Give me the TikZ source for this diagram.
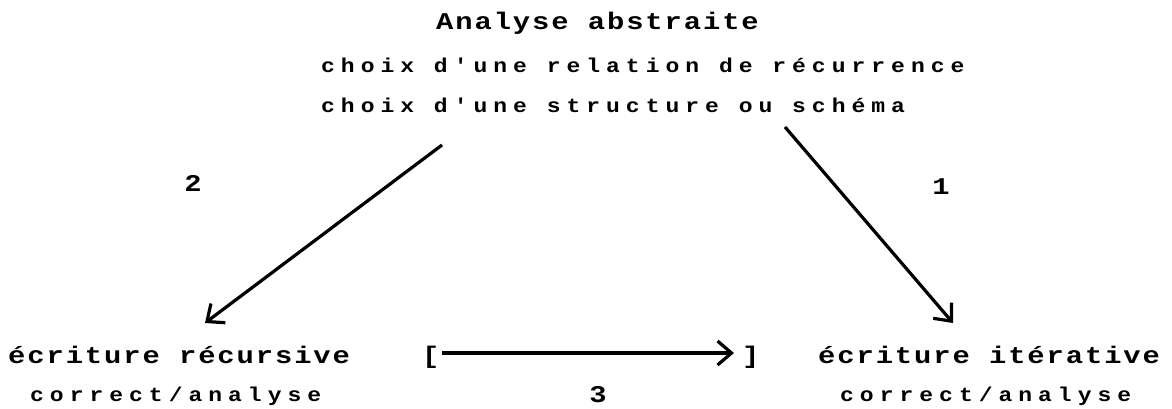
\documentclass[tikz,border=0pt]{standalone}
\usepackage{fontspec}
\usetikzlibrary{arrows.meta}
\newfontfamily\ttlfont[FakeStretch=1.2,LetterSpace=8]{Liberation Mono}
\newfontfamily\subfont[FakeStretch=1.15,LetterSpace=30]{Liberation Mono}
\tikzset{
  ttl/.style={anchor=base west, inner sep=0pt, font=\ttlfont\bfseries\fontsize{24}{24}\selectfont},
  sub/.style={anchor=base west, inner sep=0pt, font=\subfont\bfseries\fontsize{20}{20}\selectfont},
  num/.style={inner sep=0pt, font=\ttlfont\bfseries\fontsize{24}{24}\selectfont},
  arr/.style={line width=3.2pt, -{Straight Barb[length=14pt,width=24pt,line width=3.2pt]}}
}
\begin{document}
\begin{tikzpicture}[x=1pt,y=-1pt]
\useasboundingbox (0,0) rectangle (1172,408);
\node[ttl] (title) at (436,29) {Analyse abstraite};
\node[sub] (l2) at (321,72) {choix d'une relation de récurrence};
\node[sub] (l3) at (321,112) {choix d'une structure ou schéma};
\node[ttl] (rec) at (8,363) {écriture récursive};
\node[ttl] (ite) at (818,363) {écriture itérative};
\node[sub] (rca) at (30,401) {correct/analyse};
\node[sub] (ica) at (840,401) {correct/analyse};
\node[ttl] (lb) at (422,363) {[};
\node[ttl] (rb) at (742,363) {]};
\node[num] (n2) at (193,183) {2};
\node[num] (n1) at (941,187) {1};
\node[num] (n3) at (598,395) {3};
\coordinate (a2s) at (442,145);
\coordinate (a2e) at (205,323);
\coordinate (a1s) at (785,127);
\coordinate (a1e) at (953,323);
\coordinate (a3s) at (442,353);
\coordinate (a3e) at (734,353);
\draw[arr] (a2s) -- (a2e);
\draw[arr] (a1s) -- (a1e);
\draw[arr] (a3s) -- (a3e);
\end{tikzpicture}
\end{document}
